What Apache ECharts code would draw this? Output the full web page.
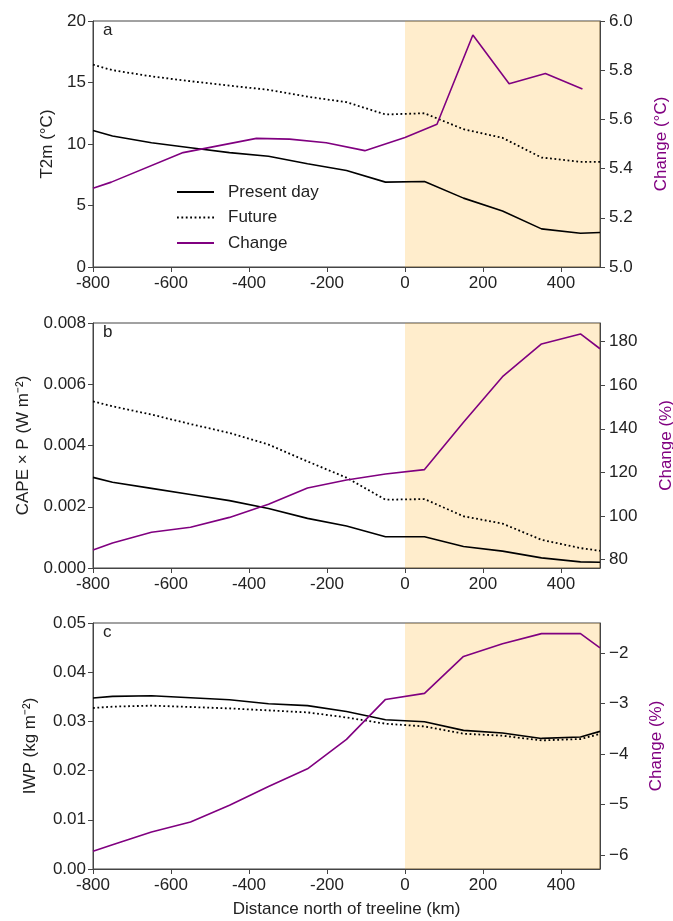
<!DOCTYPE html>
<html>
<head>
    <meta charset="utf-8">
    <title>Treeline</title>
    <script src="https://cdn.jsdelivr.net/npm/echarts@6/dist/echarts.min.js"></script>
    <style>
        html, body { margin: 0; padding: 0; background: #fff; }
        #chart { width: 673px; height: 921px; }
    </style>
</head>
<body>
<div id="chart"></div>
<script type="text/javascript">
    // distance north of treeline (km)
    var distance = [-800, -750, -650, -550, -450, -350, -250, -150, -50, 50, 150, 250, 350, 450, 500];
    var distanceChangeA = [-800, -753, -569, -381, -296, -202, -103, 0, 82, 174, 267, 360, 455];
    var xTicks = [-800, -600, -400, -200, 0, 200, 400];

    // a: T2m (°C)
    var t2mPresent = [11.1, 10.65, 10.1, 9.7, 9.3, 9.0, 8.4, 7.85, 6.9, 6.95, 5.6, 4.55, 3.1, 2.75, 2.8];
    var t2mFuture = [16.45, 16.0, 15.5, 15.1, 14.75, 14.4, 13.85, 13.4, 12.4, 12.5, 11.2, 10.5, 8.9, 8.55, 8.55];
    var t2mChange = [5.32, 5.345, 5.465, 5.523, 5.52, 5.505, 5.473, 5.526, 5.58, 5.943, 5.745, 5.787, 5.724];
    var t2mChangeTicks = [5, 5.2, 5.4, 5.6, 5.8, 6];

    // b: CAPE x P (W m-2)
    var capePresent = [0.00296, 0.0028, 0.0026, 0.0024, 0.0022, 0.00194, 0.00162, 0.00137, 0.00102, 0.00102, 0.0007, 0.00055, 0.00033, 0.0002, 0.00019];
    var capeFuture = [0.00544, 0.00528, 0.00501, 0.0047, 0.00441, 0.00403, 0.00348, 0.00295, 0.00223, 0.00225, 0.00169, 0.00145, 0.00092, 0.00065, 0.00056];
    var capeChange = [84.4, 87.7, 92.6, 94.9, 99.4, 105.4, 112.9, 116.5, 119.3, 121.3, 143, 163.9, 178.9, 183.5, 176.7];
    var capeChangeTicks = [80, 100, 120, 140, 160, 180];

    // c: IWP (kg m-2)
    var iwpPresent = [0.03476, 0.03508, 0.03522, 0.03482, 0.03441, 0.0336, 0.0332, 0.032, 0.03035, 0.02994, 0.02817, 0.02764, 0.02654, 0.02683, 0.02797];
    var iwpFuture = [0.03272, 0.033, 0.0332, 0.03293, 0.03264, 0.03224, 0.03183, 0.0308, 0.02953, 0.02898, 0.0275, 0.02709, 0.02614, 0.02642, 0.02744];
    var iwpChange = [-5.92, -5.79, -5.54, -5.34, -5.01, -4.64, -4.29, -3.71, -2.92, -2.80, -2.07, -1.82, -1.62, -1.62, -1.90];
    var iwpChangeTicks = [-6, -5, -4, -3, -2];

    var FONT = '"Liberation Sans", Arial, sans-serif';
    var INK = '#222';
    var PURPLE = '#800080';

    function pairs(xs, ys) {
        return xs.map(function (x, i) { return [x, ys[i]]; });
    }

    var grids = [
        {left: 93, right: 73, top: 21, height: 246},
        {left: 93, right: 73, top: 323, height: 245},
        {left: 93, right: 73, top: 623, height: 246}
    ];
    grids.forEach(function (g) {
        g.show = true;
        g.borderColor = '#444';
        g.borderWidth = 1;
        g.backgroundColor = 'transparent';
        g.outerBoundsMode = 'none';
        g.containLabel = false;
    });

    var axisLineStyle = {show: true, onZero: false, lineStyle: {color: '#444', width: 1}};
    var tickStyle = {show: true, inside: false, length: 5, lineStyle: {color: '#444'}};
    var labelStyle = {color: INK, fontSize: 17, fontFamily: FONT, margin: 7};

    function xAxis(idx, withName) {
        return {
            type: 'value', gridIndex: idx, min: -800, max: 500,
            axisLine: axisLineStyle,
            axisTick: Object.assign({customValues: xTicks}, tickStyle),
            axisLabel: Object.assign({}, labelStyle, {customValues: xTicks, margin: 8}),
            splitLine: {show: false},
            name: withName ? 'Distance north of treeline (km)' : '',
            nameLocation: 'middle', nameGap: 32,
            nameTextStyle: {color: INK, fontSize: 17, fontFamily: FONT}
        };
    }

    function leftAxis(idx, name, min, max, interval, decimals, gap) {
        return {
            type: 'value', gridIndex: idx, position: 'left', min: min, max: max, interval: interval,
            axisLine: axisLineStyle, axisTick: tickStyle,
            axisLabel: Object.assign({formatter: function (v) { return v.toFixed(decimals); }}, labelStyle),
            splitLine: {show: false},
            name: name, nameLocation: 'middle', nameRotate: 90, nameGap: gap,
            nameTextStyle: {color: INK, fontSize: 17, fontFamily: FONT}
        };
    }

    function rightAxis(idx, name, min, max, ticks, fmt, gap) {
        return {
            type: 'value', gridIndex: idx, position: 'right', min: min, max: max,
            axisLine: axisLineStyle,
            axisTick: Object.assign({customValues: ticks}, tickStyle),
            axisLabel: Object.assign({}, labelStyle, {customValues: ticks, formatter: fmt, margin: 9}),
            splitLine: {show: false},
            name: name, nameLocation: 'middle', nameRotate: 90, nameGap: gap,
            nameTextStyle: {color: PURPLE, fontSize: 17, fontFamily: FONT}
        };
    }

    function presentSeries(idx, data) {
        return {
            name: 'Present day', type: 'line', xAxisIndex: idx, yAxisIndex: idx * 2,
            data: pairs(distance, data), symbol: 'none', z: 3,
            lineStyle: {color: '#000', width: 1.6}, itemStyle: {color: '#000'}
        };
    }

    function futureSeries(idx, data) {
        return {
            name: 'Future', type: 'line', xAxisIndex: idx, yAxisIndex: idx * 2,
            data: pairs(distance, data), symbol: 'none', z: 3,
            lineStyle: {color: '#000', width: 1.8, type: [1.8, 2.6]}, itemStyle: {color: '#000'},
            // shaded region north of the treeline
            markArea: {
                silent: true,
                itemStyle: {color: 'rgba(255,165,0,0.2)'},
                data: [[{xAxis: 0}, {xAxis: 500}]]
            }
        };
    }

    function changeSeries(idx, xs, data) {
        return {
            name: 'Change', type: 'line', xAxisIndex: idx, yAxisIndex: idx * 2 + 1,
            data: pairs(xs, data), symbol: 'none', z: 4,
            lineStyle: {color: PURPLE, width: 1.6}, itemStyle: {color: PURPLE}
        };
    }

    var myChart = echarts.init(document.getElementById('chart'), null, {renderer: 'canvas'});

    var letterStyle = {fontSize: 17, fontWeight: 'normal', color: INK, fontFamily: FONT};
    var options = {
        animation: false,
        backgroundColor: '#fff',
        textStyle: {fontFamily: FONT},
        title: [
            {text: 'a', left: 103, top: 22, padding: 0, textStyle: letterStyle},
            {text: 'b', left: 103, top: 324, padding: 0, textStyle: letterStyle},
            {text: 'c', left: 103, top: 624, padding: 0, textStyle: letterStyle}
        ],
        legend: {
            data: ['Present day', 'Future', 'Change'],
            orient: 'vertical', left: 176, top: 183, padding: 0,
            itemWidth: 37, itemHeight: 14, itemGap: 7.5,
            selectedMode: false,
            itemStyle: {opacity: 0},
            textStyle: {color: INK, fontSize: 17, fontFamily: FONT, lineHeight: 18, padding: [0, 0, 0, 9]}
        },
        grid: grids,
        xAxis: [xAxis(0, false), xAxis(1, false), xAxis(2, true)],
        yAxis: [
            leftAxis(0, 'T2m (°C)', 0, 20, 5, 0, 34),
            rightAxis(0, 'Change (°C)', 5, 6, t2mChangeTicks, function (v) { return v.toFixed(1); }, 53),
            leftAxis(1, 'CAPE × P (W m⁻²)', 0, 0.008, 0.002, 3, 61),
            rightAxis(1, 'Change (%)', 76.2, 188.5, capeChangeTicks, function (v) { return String(v); }, 58),
            leftAxis(2, 'IWP (kg m⁻²)', 0, 0.05, 0.01, 2, 54),
            rightAxis(2, 'Change (%)', -6.27, -1.41, iwpChangeTicks, function (v) { return '\u2212' + Math.abs(v); }, 48)
        ],
        series: [
            presentSeries(0, t2mPresent),
            futureSeries(0, t2mFuture),
            changeSeries(0, distanceChangeA, t2mChange),
            presentSeries(1, capePresent),
            futureSeries(1, capeFuture),
            changeSeries(1, distance, capeChange),
            presentSeries(2, iwpPresent),
            futureSeries(2, iwpFuture),
            changeSeries(2, distance, iwpChange)
        ]
    };
    myChart.setOption(options);
</script>
</body>
</html>
